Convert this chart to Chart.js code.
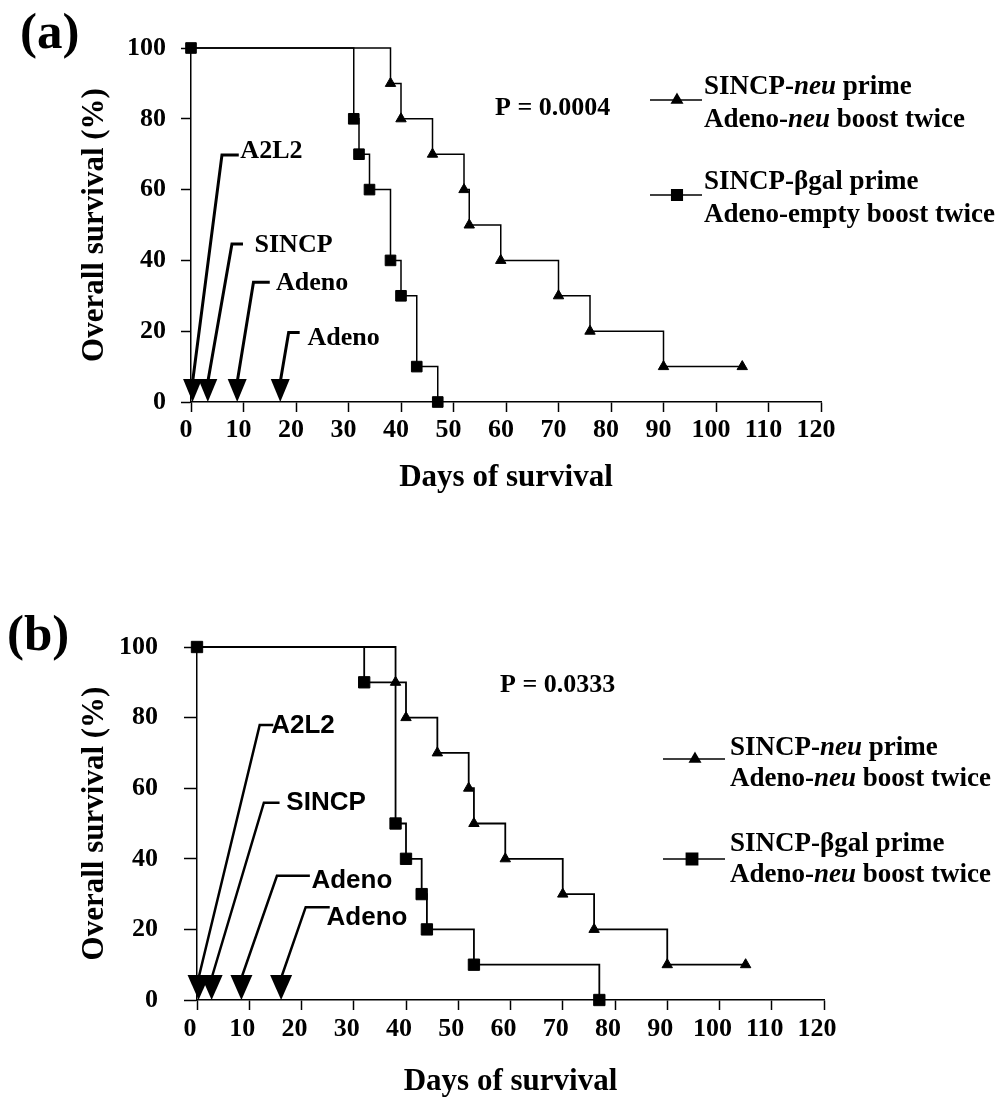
<!DOCTYPE html>
<html><head><meta charset="utf-8">
<script src="https://cdn.jsdelivr.net/npm/chart.js@4.4.1/dist/chart.umd.min.js"></script>
<style>
html,body{margin:0;padding:0;background:#fff;}
#wrap{position:relative;width:1004px;height:1114px;overflow:hidden;background:#fff;}
canvas{position:absolute;left:0;}
#ca{top:0;width:1004px;height:540px;}
#cb{top:540px;width:1004px;height:574px;}
</style></head><body>
<div id="wrap"><canvas id="ca" width="1004" height="540"></canvas><canvas id="cb" width="1004" height="574"></canvas></div>
<script>
// ---------- data ----------
const dayTicks = [0, 10, 20, 30, 40, 50, 60, 70, 80, 90, 100, 110, 120];
const survivalTicks = [0, 20, 40, 60, 80, 100];

// panel (a)
const daysA_neu  = [0, 38, 40, 46, 52, 53, 59, 70, 76, 90, 105];
const survA_neu  = [100, 90, 80, 70, 60, 50, 40, 30, 20, 10, 10];
const daysA_bgal = [0, 31, 32, 34, 38, 40, 43, 47];
const survA_bgal = [100, 80, 70, 60, 40, 30, 10, 0];
const injectionDaysA = [0.3, 3.2, 8.8, 17];
const injectionNamesA = ['A2L2', 'SINCP', 'Adeno', 'Adeno'];
const pValueA = 'P = 0.0004';

// panel (b)
const daysB_neu  = [0, 38, 40, 46, 52, 53, 59, 70, 76, 90, 105];
const survB_neu  = [100, 90, 80, 70, 60, 50, 40, 30, 20, 10, 10];
const daysB_bgal = [0, 32, 38, 40, 43, 44, 53, 77];
const survB_bgal = [100, 90, 50, 40, 30, 20, 10, 0];
const injectionDaysB = [0.3, 2.8, 8.5, 16.1];
const injectionNamesB = ['A2L2', 'SINCP', 'Adeno', 'Adeno'];
const pValueB = 'P = 0.0333';

const legendA = [
  [[['SINCP-', false], ['neu', true], [' prime', false]], [['Adeno-', false], ['neu', true], [' boost twice', false]]],
  [[['SINCP-\u03B2gal prime', false]], [['Adeno-empty boost twice', false]]]
];
const legendB = [
  [[['SINCP-', false], ['neu', true], [' prime', false]], [['Adeno-', false], ['neu', true], [' boost twice', false]]],
  [[['SINCP-\u03B2gal prime', false]], [['Adeno-', false], ['neu', true], [' boost twice', false]]]
];

// ---------- drawing ----------
const SERIF = "'Liberation Serif', 'Times New Roman', serif";
const SANS = "'Liberation Sans', Arial, sans-serif";

function pts(d, s) { return d.map((x, i) => ({x: x, y: s[i]})); }
function joinParts(lines) { return lines.map(l => l.map(p => p[0]).join('')).join(' / '); }

const annot = {
  id: 'annot',
  afterDatasetsDraw(chart, args, o) {
    const ctx = chart.ctx, xs = chart.scales.x, ys = chart.scales.y;
    ctx.save();
    ctx.fillStyle = '#000'; ctx.strokeStyle = '#000';
    // panel letter
    ctx.font = 'bold 51px ' + SERIF; ctx.textAlign = 'left'; ctx.textBaseline = 'alphabetic';
    ctx.fillText(o.panel, o.panelX, o.panelY);
    // arrows
    const tipY = ys.getPixelForValue(0);
    o.arrows.forEach((a, i) => {
      const tipX = xs.getPixelForValue(o.days[i]);
      const topY = tipY - o.headH;
      const cx = xs.getPixelForValue(a.cx), cy = ys.getPixelForValue(a.cy);
      const ex = xs.getPixelForValue(a.ex);
      ctx.lineWidth = o.arrowW; ctx.lineJoin = 'miter'; ctx.lineCap = 'butt';
      ctx.beginPath(); ctx.moveTo(tipX, topY + 3); ctx.lineTo(cx, cy); ctx.lineTo(ex, cy); ctx.stroke();
      ctx.beginPath();
      ctx.moveTo(tipX - o.headW / 2, topY); ctx.lineTo(tipX + o.headW / 2, topY); ctx.lineTo(tipX, tipY);
      ctx.closePath(); ctx.fill();
      ctx.font = o.labelFont; ctx.textAlign = 'left'; ctx.textBaseline = 'alphabetic';
      ctx.fillText(o.names[i], xs.getPixelForValue(a.tx), ys.getPixelForValue(a.ty));
    });
    // p value
    ctx.font = 'bold 26px ' + SERIF;
    ctx.fillText(o.p, o.pX, o.pY);
    // legend
    o.legend.forEach((item, k) => {
      const L = o.legendPos[k];
      ctx.lineWidth = 1.5;
      ctx.beginPath(); ctx.moveTo(L.x0, L.ly); ctx.lineTo(L.x1, L.ly); ctx.stroke();
      const ds = chart.data.datasets[k];
      Chart.helpers.drawPoint(ctx, {pointStyle: ds.pointStyle, rotation: 0, radius: L.r, borderWidth: 1}, L.mx, L.ly);
      item.forEach((line, j) => {
        let x = o.textX;
        line.forEach(p => {
          ctx.font = (p[1] ? 'italic bold ' : 'bold ') + '27px ' + SERIF;
          ctx.fillText(p[0], x, L.base[j]);
          x += ctx.measureText(p[0]).width;
        });
      });
    });
    ctx.restore();
  }
};

function makeChart(id, c) {
  const tickFont = {family: SERIF, size: 26, weight: 'bold'};
  const titleFont = {family: SERIF, size: 31, weight: 'bold'};
  return new Chart(document.getElementById(id), {
    type: 'line',
    data: {
      datasets: [
        {label: joinParts(c.legend[0]), data: pts(c.dNeu, c.sNeu), stepped: 'before',
         borderColor: '#000', borderWidth: c.lw, pointStyle: 'triangle',
         pointRadius: ctx => ctx.dataIndex === 0 ? 0 : 6,
         pointBackgroundColor: '#000', pointBorderColor: '#000', pointBorderWidth: 1,
         fill: false, clip: false},
        {label: joinParts(c.legend[1]), data: pts(c.dBgal, c.sBgal), stepped: 'before',
         borderColor: '#000', borderWidth: c.lw, pointStyle: 'rect', pointRadius: c.sqR,
         pointBackgroundColor: '#000', pointBorderColor: '#000', pointBorderWidth: 1,
         fill: false, clip: false}
      ]
    },
    options: {
      responsive: false, animation: false, events: [],
      layout: {padding: {left: 0, right: c.padR, top: c.padT, bottom: 0}},
      plugins: {legend: {display: false}, tooltip: {enabled: false}, annot: c.annot},
      scales: {
        x: {
          type: 'linear', min: 0, max: 120,
          afterBuildTicks: s => { s.ticks = dayTicks.map(v => ({value: v})); },
          afterFit: s => { s.height = c.xH; },
          ticks: {font: tickFont, color: '#000', padding: c.xTickPad, labelOffset: c.xLabelOffset, autoSkip: false, maxRotation: 0, minRotation: 0},
          grid: {display: true, drawOnChartArea: false, drawTicks: true, tickLength: 10, tickWidth: 1.5, tickColor: '#000'},
          border: {display: true, color: '#000', width: 1.5},
          title: {display: true, text: 'Days of survival', font: titleFont, color: '#000', padding: {top: 0, bottom: c.xTitlePad}}
        },
        y: {
          type: 'linear', min: 0, max: 100,
          afterBuildTicks: s => { s.ticks = survivalTicks.map(v => ({value: v})); },
          afterFit: s => { s.width = c.yW; },
          ticks: {font: tickFont, color: '#000', padding: c.yTickPad},
          grid: {display: true, drawOnChartArea: false, drawTicks: true, tickLength: c.yTickLen, tickWidth: 1.5, tickColor: '#000'},
          border: {display: true, color: '#000', width: 1.5},
          title: {display: true, text: 'Overall survival (%)', font: titleFont, color: '#000', padding: {top: 76, bottom: 0}}
        }
      }
    },
    plugins: [annot]
  });
}

makeChart('ca', {
  dNeu: daysA_neu, sNeu: survA_neu, dBgal: daysA_bgal, sBgal: survA_bgal, legend: legendA,
  lw: 1.5, sqR: 7.5, padR: 183, padT: 48, xH: 138, yW: 191,
  xTickPad: 3, xLabelOffset: -5, xTitlePad: 43, yTickPad: 15, yTickLen: 10,
  annot: {
    panel: '(a)', panelX: 20, panelY: 48,
    days: injectionDaysA, names: injectionNamesA,
    headW: 19, headH: 23, arrowW: 3, labelFont: 'bold 26px ' + SERIF,
    arrows: [
      {cx: 5.9, cy: 69.8, ex: 9.1, tx: 9.4, ty: 68.9},
      {cx: 7.8, cy: 44.6, ex: 9.9, tx: 12.1, ty: 42.5},
      {cx: 11.9, cy: 33.8, ex: 15.0, tx: 16.2, ty: 31.6},
      {cx: 18.6, cy: 19.6, ex: 20.7, tx: 22.2, ty: 16.1}
    ],
    p: pValueA, pX: 495, pY: 115,
    legend: legendA, textX: 704,
    legendPos: [
      {x0: 650, x1: 702, mx: 677, ly: 100, r: 6, base: [94, 127]},
      {x0: 650, x1: 702, mx: 677, ly: 195, r: 7.5, base: [189, 222]}
    ]
  }
});

makeChart('cb', {
  dNeu: daysB_neu, sNeu: survB_neu, dBgal: daysB_bgal, sBgal: survB_bgal, legend: legendB,
  lw: 1.8, sqR: 8, padR: 180, padT: 107, xH: 114, yW: 197,
  xTickPad: 4, xLabelOffset: -7, xTitlePad: 13, yTickPad: 26, yTickLen: 13,
  annot: {
    panel: '(b)', panelX: 7, panelY: 110,
    days: injectionDaysB, names: injectionNamesB,
    headW: 22, headH: 25, arrowW: 2.5, labelFont: 'bold 26px ' + SANS,
    arrows: [
      {cx: 12.0, cy: 77.9, ex: 14.6, tx: 14.2, ty: 75.5},
      {cx: 12.8, cy: 55.9, ex: 15.8, tx: 17.1, ty: 53.8},
      {cx: 15.3, cy: 35.2, ex: 21.6, tx: 21.9, ty: 31.7},
      {cx: 20.8, cy: 26.3, ex: 25.4, tx: 24.8, ty: 21.2}
    ],
    p: pValueB, pX: 500, pY: 152,
    legend: legendB, textX: 730,
    legendPos: [
      {x0: 663, x1: 725, mx: 695, ly: 219, r: 6, base: [215, 246]},
      {x0: 663, x1: 725, mx: 692, ly: 319, r: 8, base: [311, 342]}
    ]
  }
});
</script>
</body></html>
